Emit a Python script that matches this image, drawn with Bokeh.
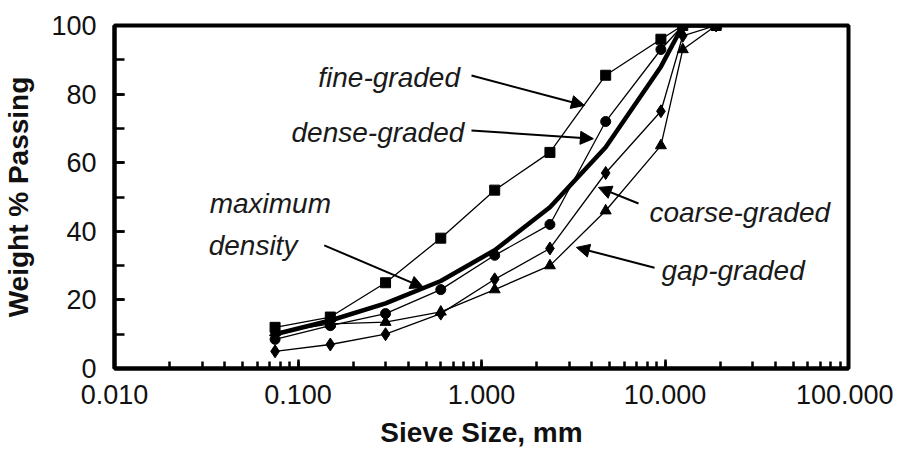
from bokeh.plotting import figure
from bokeh.models import Range1d, LogTicker, SingleIntervalTicker, NumeralTickFormatter, Arrow, NormalHead
from bokeh.core.properties import value
from bokeh.embed import file_html
from bokeh.resources import INLINE

# ---- data ----
sieve = [0.075, 0.15, 0.3, 0.6, 1.18, 2.36, 4.75, 9.5, 12.5, 19.0]
fine_graded = [12, 15, 25, 38, 52, 63, 85.5, 96, 100, 100]
dense_graded = [8.5, 12.5, 16, 23, 33, 42, 72, 93, 100, 100]
max_density = [10, 14, 19, 25.5, 34.5, 47, 64.5, 88, 100, 100]
coarse_graded = [5, 7, 10, 16, 26, 35, 57, 75, 97, 100]
gap_graded = [10.5, 13, 13.5, 16.5, 23, 30, 46, 65, 93, 100]

# annotations: label text, anchor (x, y)
label_texts = ["fine-graded", "dense-graded", "maximum", "density", "coarse-graded", "gap-graded"]
label_x = [0.129, 0.0922, 0.033, 0.0326, 8.23, 9.57]
label_y = [84.8, 68.8, 48.1, 35.9, 45.5, 28.6]

# arrows: tail (x, y) -> tip (x, y)
arrow_x_start = [0.882, 0.882, 0.139, 7.17, 8.77]
arrow_y_start = [85.4, 69.4, 35.9, 48.1, 29.4]
arrow_x_end = [3.64, 4.07, 0.483, 4.34, 3.29]
arrow_y_end = [76.7, 67.0, 23.6, 52.8, 35.3]

FONT = "Liberation Sans"

p = figure(x_axis_type="log", x_range=Range1d(0.01, 100), y_range=Range1d(0, 100),
           frame_width=734, frame_height=343,
           min_border_left=113, min_border_top=25, min_border_right=45, min_border_bottom=86,
           output_backend="svg", toolbar_location=None)

p.xgrid.visible = False
p.ygrid.visible = False
p.outline_line_color = "black"
p.outline_line_width = 4
p.background_fill_color = "white"
p.border_fill_color = "white"

# x axis
xa = p.xaxis[0]
xa.ticker = LogTicker(num_minor_ticks=10, desired_num_ticks=5)
xa.formatter = NumeralTickFormatter(format="0.000")
xa.axis_line_width = 4
xa.major_tick_in = 9
xa.major_tick_out = 0
xa.minor_tick_in = 7
xa.minor_tick_out = 0
xa.major_tick_line_width = 2.5
xa.minor_tick_line_width = 2.5
xa.major_label_text_font = FONT
xa.major_label_text_font_size = "27px"
xa.major_label_text_color = "#111111"
xa.major_label_standoff = 16
xa.axis_label = "Sieve Size, mm"
xa.axis_label_text_font = FONT
xa.axis_label_text_font_style = "bold"
xa.axis_label_text_font_size = "28px"
xa.axis_label_text_color = "#111111"
xa.axis_label_standoff = 10

# y axis
ya = p.yaxis[0]
ya.ticker = SingleIntervalTicker(interval=20, num_minor_ticks=2)
ya.axis_line_width = 4
ya.major_tick_in = 10
ya.major_tick_out = 0
ya.minor_tick_in = 10
ya.minor_tick_out = 0
ya.major_tick_line_width = 2.5
ya.minor_tick_line_width = 2.5
ya.major_label_text_font = FONT
ya.major_label_text_font_size = "27px"
ya.major_label_text_color = "#111111"
ya.major_label_standoff = 18
ya.axis_label = "Weight % Passing"
ya.axis_label_text_font = FONT
ya.axis_label_text_font_style = "bold"
ya.axis_label_text_font_size = "28px"
ya.axis_label_text_color = "#111111"
ya.axis_label_standoff = 14

# series
p.line(sieve, max_density, line_color="black", line_width=4.5)
p.line(sieve, fine_graded, line_color="black", line_width=1.3)
p.scatter(sieve, fine_graded, marker="square", size=10, color="black")
p.line(sieve, dense_graded, line_color="black", line_width=1.3)
p.scatter(sieve, dense_graded, marker="circle", size=10, color="black")
p.line(sieve, coarse_graded, line_color="black", line_width=1.3)
p.scatter(sieve, coarse_graded, marker="diamond", size=13, color="black")
p.line(sieve, gap_graded, line_color="black", line_width=1.3)
p.scatter(sieve, gap_graded, marker="triangle", size=11, color="black")

# labels
p.text(x=label_x, y=label_y, text=label_texts, text_font=value(FONT),
       text_font_style="italic", text_font_size="28px", text_color="#1a1a1a",
       text_align="left", text_baseline="alphabetic")

# arrows
for xs, ys, xe, ye in zip(arrow_x_start, arrow_y_start, arrow_x_end, arrow_y_end):
    p.add_layout(Arrow(x_start=xs, y_start=ys, x_end=xe, y_end=ye,
                       line_color="black", line_width=2,
                       end=NormalHead(size=13, fill_color="black", line_color="black")))

open("out.html", "w").write(file_html(p, INLINE))
